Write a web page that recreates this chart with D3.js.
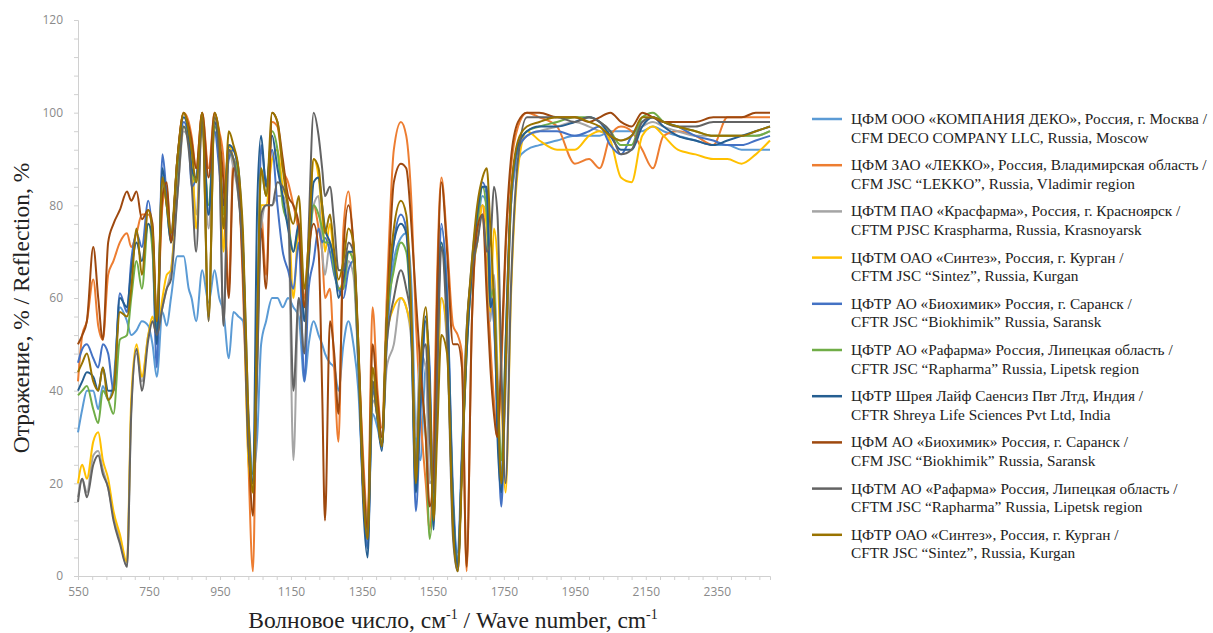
<!DOCTYPE html>
<html>
<head>
<meta charset="utf-8">
<script src="https://cdnjs.cloudflare.com/ajax/libs/d3/7.8.5/d3.min.js"></script>
<style>
body{margin:0;background:#fff;}
svg{display:block;}
</style>
</head>
<body>
<svg width="1213" height="633"></svg>
<script>
// wave numbers, cm-1 (shared by all series)
var waveNumbers = [550,562,575,593,607,620,635,650,668,688,
	700,715,730,748,760,772,788,800,812,830,
	848,862,870,883,900,918,935,948,960,975,
	988,1002,1015,1030,1043,1055,1066,1080,1097,1112,
	1127,1142,1157,1172,1188,1200,1214,1228,1238,1246,
	1260,1272,1284,1298,1312,1326,1340,1354,1366,1380,
	1394,1406,1420,1440,1460,1475,1490,1502,1515,1530,
	1541,1552,1562,1574,1590,1607,1620,1632,1645,1660,
	1675,1690,1702,1712,1722,1732,1743,1755,1770,1790,
	1815,1850,1900,1950,1990,2020,2050,2080,2110,2140,
	2170,2200,2240,2290,2340,2380,2420,2460,2500];

var decoMoscow = [31,36,40,40,36,41,38,42,58,55,
	52,53,55,54,50,43,57,54,60,69,
	69,62,60,55,66,59,66,60,57,47,
	57,56,55,35,22,30,50,55,60,60,
	58,60,58,56,42,50,55,52,50,48,
	46,45,40,50,55,50,40,18,8,35,
	32,28,50,68,73,74,62,30,25,45,
	40,15,45,75,62,15,5,28,50,65,
	75,82,80,65,55,40,22,45,80,90,
	92,93,94,95,95,95,96,96,96,96,
	97,96,95,94,93,93,92,92,92];

var lekko = [42,52,55,64,54,51,65,68,72,74,
	71,74,78,78,75,55,80,84,72,90,
	100,98,95,88,100,88,100,96,90,62,
	90,85,62,25,1,55,78,65,98,97,
	88,85,80,74,60,72,80,75,70,60,
	62,45,29,75,83,70,48,25,12,58,
	40,32,60,92,98,95,80,55,35,20,
	10,30,65,86,72,54,52,48,1,55,
	75,80,65,50,38,30,45,70,88,97,
	100,99,97,89,90,88,95,97,96,92,
	88,95,96,95,93,99,99,99,99];

var kraspharma = [17,21,18,26,27,23,19,13,8,2,
	36,48,42,52,55,52,58,62,66,82,
	96,94,90,78,98,75,98,90,54,92,
	88,82,70,30,18,45,75,80,80,82,
	82,78,25,60,55,70,80,82,70,65,
	72,68,62,62,68,65,45,20,12,38,
	35,30,45,50,60,58,50,30,48,45,
	20,22,40,60,50,12,3,25,53,65,
	72,80,78,55,65,45,25,40,80,92,
	95,96,97,98,97,96,95,94,95,97,
	98,97,96,95,95,95,95,95,96];

var sintezTM = [20,24,21,29,31,25,21,14,9,3,
	38,50,43,52,56,52,60,65,66,84,
	97,95,92,75,99,55,99,94,70,93,
	90,84,68,25,18,50,80,80,90,92,
	84,80,60,76,58,70,90,86,78,70,
	76,68,62,64,70,68,48,20,10,40,
	34,28,52,58,60,58,52,20,45,55,
	38,14,38,60,52,12,2,24,50,65,
	72,80,75,57,75,68,40,18,60,88,
	96,94,92,92,95,96,94,86,85,95,
	97,95,92,91,90,90,89,91,94];

var biokhimikTR = [46,49,50,47,45,50,48,40,61,57,
	68,74,71,81,72,45,91,82,74,88,
	98,94,84,86,97,78,96,88,80,90,
	92,86,72,35,20,48,93,85,92,80,
	70,66,62,72,42,62,68,75,72,73,
	70,65,62,60,66,68,45,18,6,40,
	35,28,52,72,78,75,52,14,35,55,
	45,12,45,76,60,18,3,25,50,68,
	78,85,82,62,55,35,15,45,80,92,
	95,96,96,95,96,97,93,91,95,98,
	99,98,97,95,94,93,93,94,95];

var rapharmaTR = [39,40,41,36,33,40,38,35,51,52,
	60,68,62,76,70,52,86,80,72,88,
	97,94,88,85,97,80,97,92,78,92,
	90,86,70,32,22,52,88,82,96,92,
	80,76,70,75,58,68,80,78,75,72,
	72,66,62,62,70,68,46,20,10,42,
	34,28,55,66,72,70,52,22,40,30,
	8,20,50,72,56,15,2,24,48,66,
	76,84,78,60,62,40,25,50,82,93,
	96,97,98,99,99,98,96,93,93,99,
	100,98,97,96,95,95,95,95,96];

var shreya = [40,42,44,43,40,45,40,40,60,58,
	66,72,68,76,73,50,88,80,72,90,
	99,95,88,86,98,78,98,92,80,93,
	92,88,70,30,20,80,95,84,95,88,
	82,75,70,76,55,68,85,86,80,75,
	72,68,60,64,70,70,48,15,4,42,
	34,27,55,72,76,74,50,18,38,56,
	42,10,50,72,58,15,2,25,48,66,
	78,84,84,58,60,30,18,50,82,93,
	96,97,97,98,99,98,95,92,92,97,
	99,97,95,94,93,94,95,96,97];

var biokhimikM = [50,52,55,71,60,51,72,76,79,83,
	81,83,77,79,76,55,82,85,72,90,
	100,97,94,88,100,86,100,95,85,60,
	88,84,65,30,13,50,75,62,100,98,
	90,82,80,76,58,70,76,70,40,12,
	55,48,35,70,80,72,50,22,10,50,
	38,30,55,85,89,88,75,60,45,30,
	15,22,60,85,70,50,50,45,2,55,
	75,78,60,45,35,30,48,72,90,98,
	100,100,99,99,98,99,100,98,97,100,
	99,98,98,98,99,99,99,100,100];

var rapharmaTM = [16,21,17,24,26,22,19,12,7,2,
	35,49,40,51,55,52,58,62,64,82,
	97,92,85,70,99,55,99,90,54,92,
	90,82,68,28,20,45,78,80,80,85,
	84,80,40,60,48,75,100,95,88,82,
	84,76,66,66,72,70,48,18,8,42,
	34,28,50,60,66,62,54,22,45,50,
	30,18,42,71,52,8,1,25,53,66,
	72,78,70,72,84,78,45,20,62,90,
	99,99,99,98,99,98,96,91,92,98,
	99,98,97,97,98,98,98,98,98];

var sintezTR = [44,46,48,42,40,45,38,40,57,56,
	62,75,65,79,74,55,86,80,74,90,
	100,96,92,85,100,56,100,95,75,96,
	93,88,74,35,18,55,88,82,100,98,
	88,80,76,82,62,72,90,88,80,74,
	78,70,64,68,75,72,50,18,8,45,
	35,28,55,75,81,78,55,20,45,58,
	40,12,30,52,48,10,1,22,52,68,
	80,86,88,75,60,40,20,45,82,94,
	97,98,99,99,98,97,95,94,95,99,
	99,98,97,96,95,95,95,96,97];

var seriesNames = [
	["ЦФМ ООО «КОМПАНИЯ ДЕКО», Россия, г. Москва /", "CFM DECO COMPANY LLC, Russia, Moscow"],
	["ЦФМ ЗАО «ЛЕККО», Россия, Владимирская область /", "CFM JSC “LEKKO”, Russia, Vladimir region"],
	["ЦФТМ ПАО «Красфарма», Россия, г. Красноярск /", "CFTM PJSC Kraspharma, Russia, Krasnoyarsk"],
	["ЦФТМ ОАО «Синтез», Россия, г. Курган /", "CFTM JSC “Sintez”, Russia, Kurgan"],
	["ЦФТР АО «Биохимик» Россия, г. Саранск /", "CFTR JSC “Biokhimik” Russia, Saransk"],
	["ЦФТР АО «Рафарма» Россия, Липецкая область /", "CFTR JSC “Rapharma” Russia, Lipetsk region"],
	["ЦФТР Шрея Лайф Саенсиз Пвт Лтд, Индия /", "CFTR Shreya Life Sciences Pvt Ltd, India"],
	["ЦФМ АО «Биохимик» Россия, г. Саранск /", "CFM JSC “Biokhimik” Russia, Saransk"],
	["ЦФТМ АО «Рафарма» Россия, Липецкая область /", "CFTM JSC “Rapharma” Russia, Lipetsk region"],
	["ЦФТР ОАО «Синтез», Россия, г. Курган /", "CFTR JSC “Sintez”, Russia, Kurgan"]
];
var seriesValues = [decoMoscow, lekko, kraspharma, sintezTM, biokhimikTR,
	rapharmaTR, shreya, biokhimikM, rapharmaTM, sintezTR];
var colours = ["#5b9bd5","#ed7d31","#a5a5a5","#ffc000","#4472c4",
	"#70ad47","#255e91","#9e480e","#636363","#997300"];

var xTicks = [550,750,950,1150,1350,1550,1750,1950,2150,2350];
var yTicks = [0,20,40,60,80,100,120];

var mySvg = d3.select("svg");
var x = d3.scaleLinear().domain([550, 2500]).range([78, 770]);
var y = d3.scaleLinear().domain([0, 120]).range([576, 20]);

// axes (Excel-like: light line, small minor ticks)
mySvg.append("g").attr("transform","translate(78,0)")
	.call(d3.axisLeft(y).tickValues(d3.range(0,121,4)).tickSize(4).tickFormat(""));
var yLabels = mySvg.append("g").attr("transform","translate(78,0)")
	.call(d3.axisLeft(y).tickValues(yTicks).tickSize(0).tickPadding(15).tickFormat(d3.format("d")));
mySvg.append("g").attr("transform","translate(0,576)")
	.call(d3.axisBottom(x).tickValues(d3.range(550,2501,40)).tickSize(4).tickFormat(""));
var xLabels = mySvg.append("g").attr("transform","translate(0,576)")
	.call(d3.axisBottom(x).tickValues(xTicks).tickSize(0).tickPadding(11).tickFormat(d3.format("d")));

mySvg.selectAll(".domain").attr("stroke","#d0d0d0");
yLabels.select(".domain").remove();
xLabels.select(".domain").remove();
mySvg.selectAll(".tick line").attr("stroke","#d0d0d0");
mySvg.selectAll(".tick text")
	.attr("fill","#8a8a8a")
	.style("font-family","'Open Sans', sans-serif")
	.style("font-size","12px");

var line = d3.line()
	.x(function(d, i){ return x(waveNumbers[i]); })
	.y(function(d){ return y(d); })
	.curve(d3.curveMonotoneX);

var plot = mySvg.append("g");
plot.selectAll("path")
	.data(seriesValues)
	.enter()
	.append("path")
	.attr("d", line)
	.attr("fill","none")
	.attr("stroke", function(d, i){ return colours[i]; })
	.attr("stroke-width", 2)
	.attr("stroke-linejoin","round");

// axis titles
mySvg.append("text")
	.attr("transform","translate(29,308) rotate(-90)")
	.attr("text-anchor","middle")
	.style("font-family","'Liberation Serif', serif")
	.style("font-size","23.5px")
	.attr("fill","#222")
	.text("Отражение, % / Reflection, %");

var xTitle = mySvg.append("text")
	.attr("x", 453).attr("y", 628)
	.attr("text-anchor","middle")
	.style("font-family","'Liberation Serif', serif")
	.style("font-size","23.5px")
	.attr("fill","#222");
xTitle.append("tspan").text("Волновое число, см");
xTitle.append("tspan").attr("dy",-9).style("font-size","14px").text("-1");
xTitle.append("tspan").attr("dy",9).text(" / Wave number, cm");
xTitle.append("tspan").attr("dy",-9).style("font-size","14px").text("-1");

// legend
var legend = mySvg.append("g").attr("transform","translate(812,119)");
var entry = legend.selectAll("g")
	.data(seriesNames)
	.enter()
	.append("g")
	.attr("transform", function(d, i){ return "translate(0," + (i*46.2) + ")"; });
entry.append("line")
	.attr("x1",0).attr("x2",30).attr("y1",0).attr("y2",0)
	.attr("stroke", function(d, i){ return colours[i]; })
	.attr("stroke-width", 2.5);
entry.append("text")
	.attr("x",39).attr("y",5)
	.style("font-family","'Liberation Serif', serif")
	.style("font-size","15.3px")
	.attr("fill","#222")
	.text(function(d){ return d[0]; });
entry.append("text")
	.attr("x",39).attr("y",23.5)
	.style("font-family","'Liberation Serif', serif")
	.style("font-size","15.3px")
	.attr("fill","#222")
	.text(function(d){ return d[1]; });
</script>
</body>
</html>
